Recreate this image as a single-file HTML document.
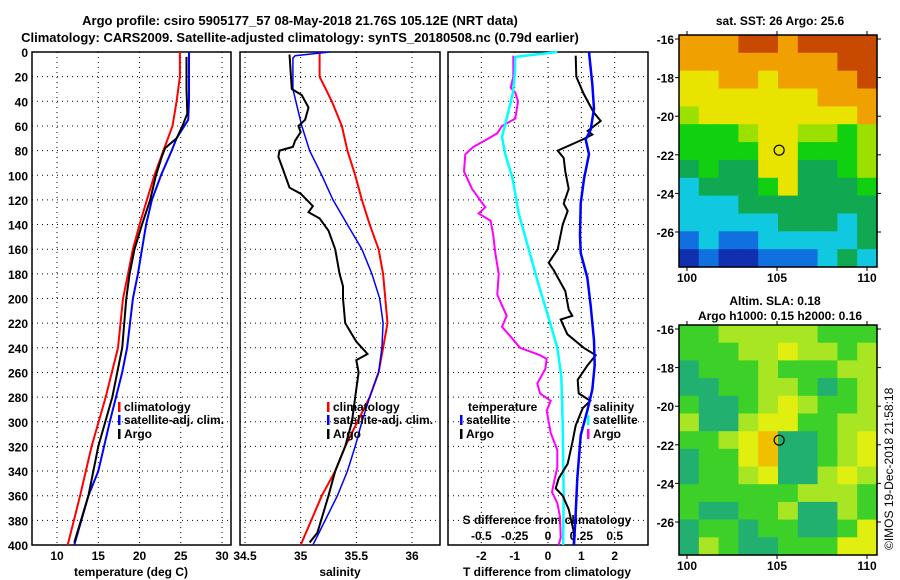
<!DOCTYPE html>
<html><head><meta charset="utf-8"><style>
body{margin:0;background:#fff;}
svg{display:block;font-family:"Liberation Sans",sans-serif;font-weight:bold;font-size:12px;}
</style></head><body>
<svg id="c" width="900" height="580" xmlns="http://www.w3.org/2000/svg">
<text x="300" y="25" text-anchor="middle" font-size="13">Argo profile: csiro 5905177_57 08-May-2018 21.76S 105.12E (NRT data)</text>
<text x="300" y="42" text-anchor="middle" font-size="13">Climatology: CARS2009. Satellite-adjusted climatology: synTS_20180508.nc (0.79d earlier)</text>
<text x="780" y="25" text-anchor="middle">sat. SST: 26 Argo: 25.6</text>
<text x="775" y="305" text-anchor="middle">Altim. SLA: 0.18</text>
<text x="780" y="320" text-anchor="middle">Argo h1000: 0.15 h2000: 0.16</text>
<text transform="translate(893,550) rotate(-90)" font-weight="normal">©IMOS 19-Dec-2018 21:58:18</text>
<g id="g"></g>
</svg>
<script>
// ---- data ----
const tempClimDepth=[0,20,40,60,80,100,120,140,160,180,200,240,280,320,360,400];
const tempClim=[24.9,24.9,24.5,24.0,22.9,21.8,20.9,20.0,19.2,18.6,18.0,17.4,15.9,14.2,12.8,11.3];
const tempSatDepth=[0,20,40,55,70,80,100,120,140,160,180,200,240,260,300,340,360,400];
const tempSat=[26.0,26.0,26.0,25.9,24.5,23.9,22.6,21.5,20.8,20.3,19.8,19.2,18.5,17.9,16.4,15.0,13.8,12.1];
const tempArgoDepth=[4,15,30,50,60,70,78,85,100,120,140,160,180,200,240,280,320,360,398];
const tempArgo=[25.7,25.7,25.7,25.8,25.2,24.5,23.1,22.7,22.0,21.3,20.3,19.4,18.8,18.4,17.9,16.7,15.0,13.8,12.1];
const salClimDepth=[0,20,40,60,80,100,120,140,160,180,200,220,240,260,280,300,320,340,360,400];
const salClim=[35.17,35.17,35.28,35.37,35.42,35.49,35.55,35.62,35.70,35.74,35.76,35.78,35.74,35.70,35.62,35.51,35.40,35.31,35.19,35.0];
const salSatDepth=[0,3,5,30,60,80,100,120,140,160,180,200,220,240,260,280,300,320,340,360,400];
const salSat=[35.26,34.95,34.93,34.93,35.01,35.08,35.19,35.29,35.42,35.55,35.64,35.71,35.74,35.73,35.70,35.62,35.55,35.49,35.42,35.33,35.11];
const salArgoDepth=[2,30,35,45,55,60,65,72,77,80,85,95,110,115,125,130,135,145,160,180,190,200,220,235,245,250,260,280,300,320,340,360,390,398];
const salArgo=[34.90,34.92,35.01,35.07,35.04,34.98,35.00,34.95,34.93,34.81,34.80,34.84,34.90,35.00,35.11,35.07,35.17,35.25,35.31,35.35,35.38,35.38,35.40,35.50,35.60,35.50,35.52,35.49,35.46,35.40,35.31,35.25,35.15,35.08];
const dTArgoDepth=[3,20,34,49,56,64,67,71,80,86,97,111,123,129,140,160,171,177,194,209,214,217,229,240,246,254,266,277,283,289,303,317,334,346,354,360,371,389,400];
const dTArgo=[0.83,0.85,1.07,1.37,1.58,1.19,1.33,1.04,0.29,0.47,0.52,0.62,0.47,0.59,0.44,0.29,0.02,0.17,0.52,0.62,0.73,0.38,0.58,1.07,1.43,1.19,0.89,0.92,1.27,1.04,0.83,0.73,0.59,0.32,0.23,0.44,0.62,0.77,0.77];
const dTSatDepth=[0,26,46,63,71,83,103,123,149,163,183,206,234,254,274,291,311,346,374,400];
const dTSat=[1.23,1.33,1.38,1.28,1.13,1.23,1.08,0.98,0.96,0.98,1.18,1.28,1.38,1.40,1.33,1.18,0.98,0.88,0.83,0.78];
const dSSatDepth=[0,4,17,34,54,69,83,103,131,160,189,217,240,263,303,360,400];
const dSSat=[0.07,-0.245,-0.248,-0.265,-0.31,-0.345,-0.32,-0.265,-0.22,-0.145,-0.07,0.008,0.07,0.1,0.11,0.118,0.113];
const dSArgoDepth=[3,20,29,33,40,54,60,66,71,77,83,97,111,120,126,131,137,149,163,180,197,214,223,231,240,246,249,257,269,277,283,291,309,323,337,349,357,366,377,394,400];
const dSArgo=[-0.26,-0.26,-0.28,-0.245,-0.225,-0.245,-0.345,-0.38,-0.46,-0.56,-0.62,-0.63,-0.57,-0.51,-0.47,-0.52,-0.43,-0.41,-0.395,-0.37,-0.38,-0.31,-0.345,-0.28,-0.21,-0.06,-0.01,-0.02,-0.08,-0.06,0.02,-0.01,0.02,0.07,0.07,0.045,0.03,0.07,0.09,0.095,0.08];
const depthTicks=[0,20,40,60,80,100,120,140,160,180,200,220,240,260,280,300,320,340,360,380,400];
const tempTicks=[10,15,20,25,30];
const salTicks=[34.5,35,35.5,36];
const dTTicks=[-2,-1,0,1,2];
const dSTicks=[-0.5,-0.25,0,0.25,0.5];
const latTicks=[-16,-18,-20,-22,-24,-26];
const lonTicks=[100,105,110];
const argoLon=105.12, argoLat=-21.76;
const sstGrid=["oooddodddd","oooooooodd","yyooyooood","yyyyyyyooo","lyyyyyyyyo","ggglyyllgl","ggggyygggl","GgGGyyGGgl","cGGGgyGGGg","cccGGGGGGG","cccccGGGcG","bcbbcccccG","BbBBbbbcGc"];
const slaGrid=["gglllllggg","gggllyllgl","Gggglgggll","GGggllgGgl","gGGglylggl","lGGlyyggll","gglyoGGgly","GggyoGGgly","GgglyGGlyl","gggggglllg","gGGgglGGlg","GggGggGGgy","GlgGGgggyy"];
// ---- drawing ----
const NS="http://www.w3.org/2000/svg";
const G=document.getElementById('g');
function el(tag,attrs,parent){const e=document.createElementNS(NS,tag);for(const k in attrs)e.setAttribute(k,attrs[k]);(parent||G).appendChild(e);return e;}
const top0=52,bot=545;
function yD(d){return top0+(bot-top0)*d/400;}
function lin(a,b,pa,pb){return v=>pa+(v-a)*(pb-pa)/(b-a);}
const panels=[{x0:32,x1:231,sx:lin(10,30,57,222)},{x0:240,x1:440,sx:lin(34.5,36,245,412)},{x0:448,x1:648,sx:lin(-3,3,448,648)}];
const sxS=lin(-0.75,0.75,448,648);
function poly(xs,ds,sx,color,w,name){
  const pts=xs.map((v,i)=>sx(v).toFixed(1)+","+yD(ds[i]).toFixed(1)).join(" ");
  const p=el('polyline',{points:pts,fill:"none",stroke:color,"stroke-width":w});
  
  
}
function txt(x,y,s,anchor,name,extra){const t=el('text',Object.assign({x:x,y:y,"text-anchor":anchor||"start"},extra||{}));t.textContent=s;
  
  return t;}
panels.forEach((p,pi)=>{
  const ticks=pi==0?tempTicks:pi==1?salTicks:dTTicks;
  depthTicks.forEach(d=>{const l=el('line',{x1:p.x0,x2:p.x1,y1:yD(d),y2:yD(d),stroke:"#000","stroke-dasharray":"1,4"});
    
    });
  ticks.forEach(v=>{const x=p.sx(v);const l=el('line',{x1:x,x2:x,y1:top0,y2:bot,stroke:"#000","stroke-dasharray":"1,4"});
    
    
    txt(x,560,String(v),"middle","x-tick-label");});
  const r=el('rect',{x:p.x0,y:top0,width:p.x1-p.x0,height:bot-top0,fill:"none",stroke:"#000","stroke-width":1.5});
  
  
});
depthTicks.forEach(d=>txt(28,yD(d)+5,String(d),"end","depth-tick-label"));
txt(131,576,"temperature (deg C)","middle","x-axis-title-temperature");
txt(340,576,"salinity","middle","x-axis-title-salinity");
txt(547,576,"T difference from climatology","middle","x-axis-title-tdiff");
txt(547,524,"S difference from climatology","middle","s-axis-title");
dSTicks.forEach(v=>txt(sxS(v),540,String(v),"middle","s-tick-label"));
// series
poly(tempClim,tempClimDepth,panels[0].sx,"#f00",2,"temp-climatology-line");
poly(tempSat,tempSatDepth,panels[0].sx,"#00f",2,"temp-satellite-line");
poly(tempArgo,tempArgoDepth,panels[0].sx,"#000",2,"temp-argo-line");
poly(salClim,salClimDepth,panels[1].sx,"#f00",2,"sal-climatology-line");
poly(salSat,salSatDepth,panels[1].sx,"#00f",1.5,"sal-satellite-line");
poly(salArgo,salArgoDepth,panels[1].sx,"#000",2,"sal-argo-line");
poly(dSArgo,dSArgoDepth,sxS,"#f0f",2,"sdiff-argo-line");
poly(dSSat,dSSatDepth,sxS,"#0ff",2.5,"sdiff-satellite-line");
poly(dTArgo,dTArgoDepth,panels[2].sx,"#000",2,"tdiff-argo-line");
poly(dTSat,dTSatDepth,panels[2].sx,"#00f",2.5,"tdiff-satellite-line");
// legends
function leg(x,y,c,s,name){const r=el('rect',{x:x,y:y-9,width:2.5,height:10,fill:c});
  
  
  txt(x+6,y,s,"start",name);}
[[118,"climatology-legend"],[327,"sal-climatology-legend"]].forEach(([x,n])=>{
  leg(x,411,"#f00","climatology",n);leg(x,424,"#00f","satellite-adj. clim.",n+"-sat");leg(x,438,"#000","Argo",n+"-argo");});
txt(468,411,"temperature","start","legend-temperature-heading");
leg(460,424,"#00f","satellite","legend-temp-satellite");leg(460,438,"#000","Argo","legend-temp-argo");
txt(593,411,"salinity","start","legend-salinity-heading");
leg(587,424,"#0ff","satellite","legend-sal-satellite");leg(587,438,"#f0f","Argo","legend-sal-argo");
// maps
const sstPal={d:"#c84a00",o:"#f0a000",y:"#e8e400",l:"#9ce000",g:"#10d010",G:"#10a850",c:"#10c8e0",b:"#1070e0",B:"#1030b0"};
const slaPal={g:"#3cd028",G:"#22b070",l:"#a8e624",y:"#e0ee10",o:"#f0c000"};
function map(y0,y1,grid,pal,name){
  const x0=679,x1=877,lonS=lin(100,110,687,867),latS=lin(-16,-26,y0+4,y0+197);
  const rows=grid.length;
  grid.forEach((row,ri)=>{const cols=row.length;for(let ci=0;ci<cols;ci++){
    const cx=x0+(x1-x0)*ci/cols,cy=y0+(y1-y0)*ri/rows;
    const r=el('rect',{x:cx.toFixed(1),y:cy.toFixed(1),width:((x1-x0)/cols+0.6).toFixed(1),height:((y1-y0)/rows+0.6).toFixed(1),fill:pal[row[ci]]||"#10d010"});
    
    }});
  const f=el('rect',{x:x0,y:y0,width:x1-x0,height:y1-y0,fill:"none",stroke:"#000","stroke-width":1.5});
  
  
  latTicks.forEach(v=>{const y=latS(v);el('line',{x1:x0-4,x2:x0,y1:y,y2:y,stroke:"#000"});el('line',{x1:x1,x2:x1+4,y1:y,y2:y,stroke:"#000"});
    txt(x0-5,y+5,String(v),"end",name+'-lat-label');});
  lonTicks.forEach(v=>{const x=lonS(v);el('line',{x1:x,x2:x,y1:y1,y2:y1+4,stroke:"#000"});el('line',{x1:x,x2:x,y1:y0-4,y2:y0,stroke:"#000"});
    txt(x,y1+15,String(v),"middle",name+'-lon-label');});
  const c=el('circle',{cx:lonS(argoLon),cy:latS(argoLat),r:5,fill:"none",stroke:"#000","stroke-width":1.2});
  
  
}
map(35,267,sstGrid,sstPal,"sst-map");
map(325,555,slaGrid,slaPal,"sla-map");
</script>
</body></html>
